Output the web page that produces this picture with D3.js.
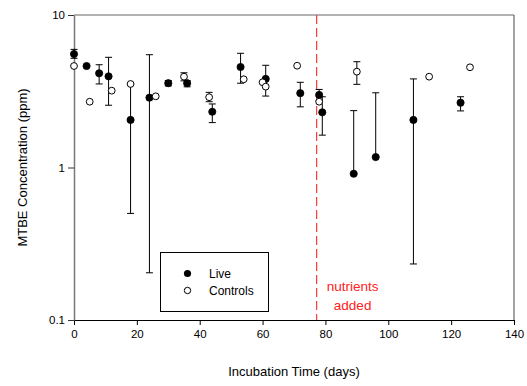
<!DOCTYPE html>
<html><head><meta charset="utf-8">
<script src="https://cdn.jsdelivr.net/npm/d3@7"></script>
<style>body{margin:0;background:#fff}svg{display:block;font-family:"Liberation Sans",Arial,sans-serif}</style>
</head><body>
<svg id="c" width="527" height="386"></svg>
<script>
const liveDays = [0, 4, 8, 11, 18, 24, 30, 36, 44, 53, 61, 72, 78, 79, 89, 96, 108, 123];
const liveMTBE = [5.55, 4.63, 4.15, 3.96, 2.05, 2.87, 3.57, 3.57, 2.32, 4.56, 3.81, 3.07, 2.99, 2.30, 0.91, 1.17, 2.05, 2.66];
const liveHigh = [5.95, null, 4.72, 5.28, 3.5, 5.49, 3.72, 3.72, 2.61, 5.61, 4.68, 3.62, 3.25, 2.91, 2.36, 3.09, 3.81, 2.91];
const liveLow  = [5.2, null, 3.53, 2.56, 0.50, 0.204, 3.43, 3.38, 1.97, 3.57, 2.94, 2.50, 2.75, 1.63, null, null, 0.233, 2.35];

const ctrlDays = [0, 5, 12, 18, 26, 35, 43, 54, 60, 61, 71, 78, 90, 113, 126];
const ctrlMTBE = [4.63, 2.70, 3.19, 3.53, 2.93, 3.94, 2.89, 3.79, 3.62, 3.39, 4.65, 2.70, 4.25, 3.94, 4.54];
const ctrlHigh = [null, null, null, null, null, 4.18, 3.11, null, null, null, null, null, 4.94, null, null];
const ctrlLow  = [null, null, null, null, null, 3.70, 2.70, null, null, null, null, null, 3.51, null, null];

const xTicks = [0, 20, 40, 60, 80, 100, 120, 140];
const yTicks = [0.1, 1, 10];
const nutrientDay = 77.2;

const W = 527, H = 386;
const m = {l: 74, t: 15, r: 13, b: 66};
const iw = W - m.l - m.r, ih = H - m.t - m.b;
const svg = d3.select("#c");
const x = d3.scaleLinear().domain([0, 140]).range([m.l, m.l + iw]);
const y = d3.scaleLog().domain([0.1, 10]).range([m.t + ih, m.t]);

// frame
svg.append("line").attr("x1", m.l).attr("x2", m.l + iw).attr("y1", m.t).attr("y2", m.t).attr("stroke", "#666").attr("stroke-width", 1.2);
svg.append("line").attr("x1", m.l + iw).attr("x2", m.l + iw).attr("y1", m.t).attr("y2", m.t + ih).attr("stroke", "#666").attr("stroke-width", 1.2);

// axes
const xa = svg.append("g").attr("transform", `translate(0,${m.t + ih})`)
  .call(d3.axisBottom(x).tickValues(xTicks).tickSize(5).tickSizeOuter(0).tickPadding(5));
xa.select(".domain").attr("stroke", "#000");
xa.selectAll("text").attr("font-size", 11.5).attr("fill", "#000");

const ya = svg.append("g").attr("transform", `translate(${m.l},0)`)
  .call(d3.axisLeft(y).tickValues(yTicks).tickFormat(d => d === 0.1 ? "0.1" : String(d)).tickSize(6).tickSizeOuter(0).tickPadding(3));
ya.select(".domain").attr("stroke", "#777").attr("stroke-width", 1.5);
ya.selectAll("line").attr("stroke", "#333");
ya.selectAll("text").attr("font-size", 11.5).attr("fill", "#000");

// axis titles
svg.append("text").attr("x", x(70)).attr("y", 376).attr("text-anchor", "middle").attr("font-size", 13).text("Incubation Time (days)");
svg.append("text").attr("transform", `translate(27,${y(1)}) rotate(-90)`).attr("text-anchor", "middle").attr("font-size", 13).text("MTBE Concentration (ppm)");

// nutrients line
svg.append("line").attr("x1", x(nutrientDay)).attr("x2", x(nutrientDay)).attr("y1", m.t).attr("y2", m.t + ih)
  .attr("stroke", "#ff3a3a").attr("stroke-width", 1.2).attr("stroke-dasharray", "9,4");
const nt = svg.append("text").attr("fill", "#ff2020").attr("font-size", 13.5).attr("text-anchor", "middle");
nt.append("tspan").attr("x", x(nutrientDay) + 36).attr("y", 291).text("nutrients");
nt.append("tspan").attr("x", x(nutrientDay) + 36).attr("y", 310).text("added");

function errBars(days, vals, hi, lo) {
  const g = svg.append("g").attr("stroke", "#000").attr("stroke-width", 1);
  days.forEach((d, i) => {
    const cx = x(d);
    if (hi[i] != null) {
      g.append("line").attr("x1", cx).attr("x2", cx).attr("y1", y(vals[i])).attr("y2", y(hi[i]));
      g.append("line").attr("x1", cx - 3.5).attr("x2", cx + 3.5).attr("y1", y(hi[i])).attr("y2", y(hi[i]));
    }
    if (lo[i] != null) {
      g.append("line").attr("x1", cx).attr("x2", cx).attr("y1", y(vals[i])).attr("y2", y(lo[i]));
      g.append("line").attr("x1", cx - 3.5).attr("x2", cx + 3.5).attr("y1", y(lo[i])).attr("y2", y(lo[i]));
    }
  });
}
errBars(liveDays, liveMTBE, liveHigh, liveLow);
errBars(ctrlDays, ctrlMTBE, ctrlHigh, ctrlLow);

svg.append("g").selectAll("circle").data(liveDays).join("circle")
  .attr("cx", d => x(d)).attr("cy", (d, i) => y(liveMTBE[i])).attr("r", 3.6)
  .attr("fill", "#000").attr("stroke", "#000").attr("stroke-width", 0.8);
svg.append("g").selectAll("circle").data(ctrlDays).join("circle")
  .attr("cx", d => x(d)).attr("cy", (d, i) => y(ctrlMTBE[i])).attr("r", 3.4)
  .attr("fill", "#fff").attr("stroke", "#000").attr("stroke-width", 1);

// legend
const lg = svg.append("g");
lg.append("rect").attr("x", 160.5).attr("y", 252.5).attr("width", 108).attr("height", 59).attr("fill", "#fff").attr("stroke", "#000");
lg.append("circle").attr("cx", 187.5).attr("cy", 273.5).attr("r", 3.6).attr("fill", "#000");
lg.append("circle").attr("cx", 187.5).attr("cy", 290.5).attr("r", 3.2).attr("fill", "#fff").attr("stroke", "#000");
lg.append("text").attr("x", 209).attr("y", 277.5).attr("font-size", 12).text("Live");
lg.append("text").attr("x", 209).attr("y", 294.5).attr("font-size", 12).text("Controls");
</script>
</body></html>
